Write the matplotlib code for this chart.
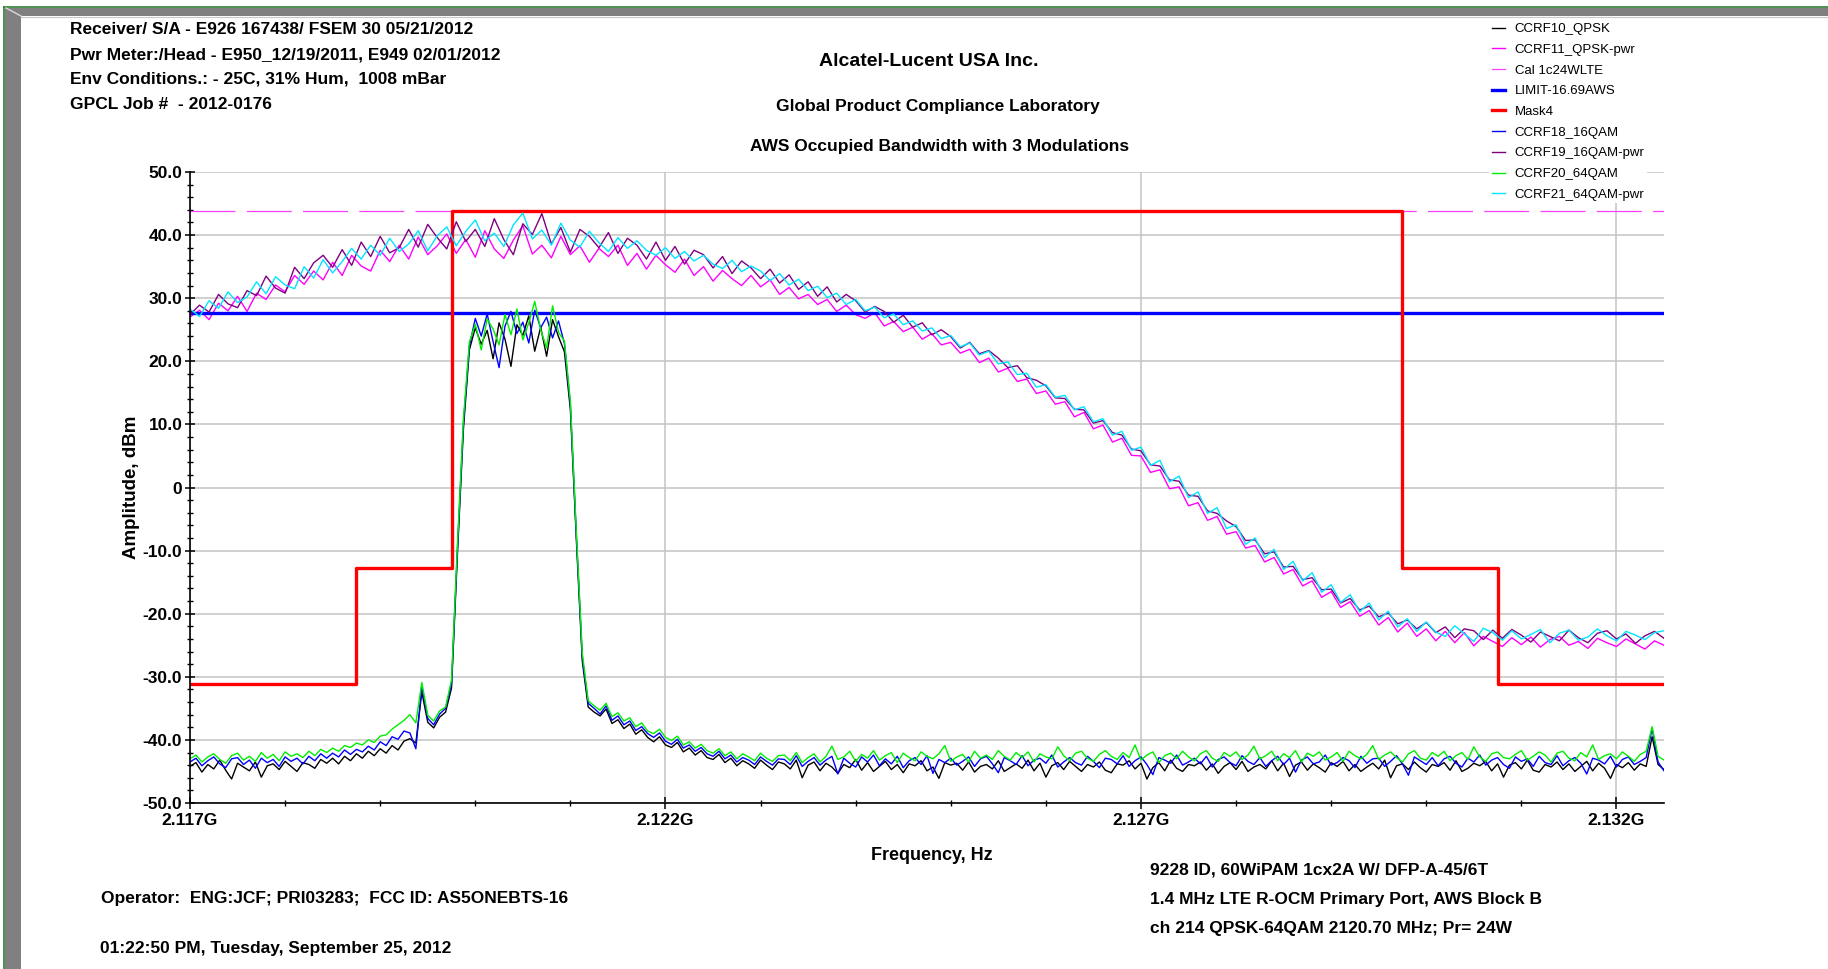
import numpy as np
import matplotlib
matplotlib.use('Agg')
import matplotlib.pyplot as plt
from matplotlib import ticker
from matplotlib.patches import Rectangle
from matplotlib.lines import Line2D

plt.rcParams['font.family'] = ['Liberation Sans', 'DejaVu Sans']
plt.rcParams['font.weight'] = 'bold'

# Sweep settings (GHz)
SWEEP_START = 2.117
SWEEP_STOP = 2.1325

# Narrowband captures, 249 bins across the sweep (dBm)
ccrf10_qpsk = [
    -44.2, -43.6, -45.1, -43.9, -44.6, -43.2, -44.8, -46.2, -43.7, -44.3,
    -44.9, -43.5, -45.9, -44.1, -43.8, -44.7, -43.4, -44.2, -45.0, -43.6,
    -43.9, -44.5, -43.1, -43.7, -42.9, -43.8, -42.6, -43.3, -42.2, -42.9,
    -41.8, -42.5, -41.4, -42.1, -40.9, -41.6, -40.2, -39.8, -40.5, -32.4,
    -37.2, -38.1, -36.4, -35.6, -31.8, -10.5, 9.2,
    21.8, 25.3, 22.7, 24.9, 20.4, 26.1, 23.5, 19.2, 25.8, 24.1, 27.2, 21.6, 25.4, 20.8, 26.6, 23.9, 21.5,
    12.3, -8.2, -27.5, -34.8,
    -35.6, -36.2, -35.1, -37.4, -36.8, -38.2, -37.5, -39.1, -38.4, -39.6, -40.3, -39.5,
    -40.8, -41.2, -40.4, -41.9, -41.3, -42.4, -41.7, -42.8, -43.1, -42.3,
    -43.6, -42.9, -44.1, -43.3, -43.8, -44.5, -43.2, -44.0, -44.7, -43.5,
    -43.8, -44.6, -43.2, -46.0, -44.0, -43.5, -44.9, -43.7, -44.3, -45.3,
    -43.9, -44.4, -43.1, -44.8, -43.6, -45.0, -44.2, -43.4, -44.7, -43.9,
    -45.2, -43.8, -44.1, -43.3, -44.9, -44.3, -46.1, -43.6, -44.0, -43.7,
    -44.8, -43.5, -45.1, -44.2, -43.9, -44.6, -43.3, -45.0, -44.4, -43.8,
    -44.5, -43.2, -44.9, -43.7, -45.9, -44.1, -43.6, -44.7, -43.4, -44.2,
    -45.0, -43.9, -44.3, -43.5, -44.8, -45.2, -43.8, -44.0, -43.3, -44.6,
    -43.7, -46.2, -44.4, -43.6, -44.9, -43.2, -44.5, -45.0, -43.9, -44.1,
    -43.5, -44.8, -43.8, -45.3, -44.2, -43.6, -44.7, -43.4, -45.0, -44.3,
    -43.9, -44.6, -43.3, -44.9, -43.7, -45.8, -44.0, -43.5, -44.8, -43.8,
    -44.4, -45.1, -43.6, -44.2, -43.4, -44.9, -43.9, -45.0, -44.3, -43.7,
    -44.6, -43.2, -46.0, -44.1, -43.8, -44.7, -43.5, -44.4, -45.1, -43.9,
    -44.2, -43.6, -44.8, -43.3, -45.0, -44.5, -43.7, -44.1, -43.4, -44.9,
    -43.8, -45.9, -44.0, -43.6, -44.6, -43.2, -44.8, -45.1, -43.9, -44.3,
    -43.5, -44.7, -43.8, -45.0, -44.2, -43.4, -44.9, -43.7, -44.5, -46.1,
    -43.9, -44.4, -43.6, -44.8, -43.8, -44.2,
    -39.5, -43.9, -44.7,
]

ccrf18_16qam = [
    -43.5, -42.9, -44.1, -43.3, -42.7, -43.8, -44.4, -43.0, -42.8, -43.9,
    -43.2, -44.5, -42.9, -43.6, -43.1, -44.2, -42.7, -43.4, -42.9, -43.8,
    -42.6, -43.3, -42.2, -42.9, -42.1, -42.7, -41.6, -42.3, -41.5, -41.9,
    -41.0, -41.6, -40.3, -40.9, -39.5, -39.9, -38.6, -38.9, -41.4, -31.5,
    -36.6, -37.6, -35.9, -35.0, -31.2, -9.6, 10.1,
    22.4, 26.8, 24.0, 27.5, 23.1, 19.0, 25.6, 27.9, 24.4, 26.2, 22.9, 28.1, 25.3, 27.0, 23.7, 26.4, 22.8,
    13.1, -7.5, -26.8, -34.2,
    -35.0, -35.9, -34.6, -36.9, -36.2, -37.6, -37.0, -38.5, -37.9, -39.0, -39.6, -38.9,
    -40.2, -40.7, -39.9, -41.3, -40.8, -41.8, -41.2, -42.2, -42.6, -41.8,
    -43.0, -42.4, -43.5, -42.8, -43.2, -43.9, -42.7, -43.4, -44.0, -43.0,
    -43.1, -43.9, -42.5, -44.2, -43.4, -42.8, -44.0, -43.2, -42.6, -45.4,
    -42.9, -43.7, -44.3, -42.7, -43.5, -42.4, -44.1, -43.0, -43.8, -42.6,
    -44.4, -43.3, -42.8, -43.9, -42.5, -45.3, -43.1, -43.6, -42.9, -44.0,
    -43.4, -42.7, -44.2, -43.0, -42.6, -43.8, -45.2, -42.8, -43.3, -43.9,
    -42.5, -44.1, -43.2, -42.9, -43.7, -42.4, -44.3, -43.5, -42.8, -43.6,
    -44.0, -42.6, -43.4, -44.4, -42.9, -43.1, -43.8, -42.5, -44.2, -43.3,
    -42.7, -43.9, -45.5, -42.8, -43.2, -43.7, -42.4, -44.0, -43.5, -42.9,
    -43.8, -42.6, -44.3, -43.1, -42.7, -43.6, -44.1, -42.5, -43.4, -43.9,
    -42.8, -44.2, -43.3, -42.6, -43.9, -42.9, -45.1, -43.2, -42.7, -43.8,
    -43.5, -42.4, -44.0, -43.6, -42.8, -43.3, -44.4, -42.6, -43.7, -43.0,
    -42.9, -44.2, -43.4, -42.5, -43.8, -45.6, -42.7, -43.3, -43.9, -42.8,
    -44.1, -43.0, -42.6, -43.7, -44.3, -42.9, -43.5, -42.4, -44.0, -43.2,
    -42.8, -43.9, -44.5, -42.7, -43.4, -43.0, -44.2, -42.6, -43.6, -43.9,
    -42.5, -44.1, -43.3, -42.8, -43.7, -45.4, -42.9, -43.2, -43.8, -42.6,
    -44.3, -43.1, -42.7, -43.9, -43.4, -42.8,
    -38.2, -43.5, -44.9,
]

ccrf20_64qam = [
    -43.0, -42.4, -43.5, -42.7, -42.2, -43.1, -43.7, -42.5, -42.1, -43.2,
    -42.6, -43.4, -42.0, -42.9, -42.3, -43.3, -41.9, -42.6, -42.2, -42.8,
    -41.8, -42.5, -41.5, -42.0, -41.3, -41.8, -40.9, -41.2, -40.5, -40.8,
    -40.0, -40.4, -39.4, -39.2, -38.3, -37.6, -36.9, -36.0, -37.3, -30.9,
    -36.1, -37.0, -35.4, -34.8, -30.5, -9.0, 10.8,
    23.0, 25.9, 21.8, 26.7, 25.1, 22.6, 27.4, 24.2, 28.3, 23.4, 26.1, 29.5, 25.0, 22.1, 28.8, 24.6, 23.2,
    13.6, -7.0, -26.2, -33.8,
    -34.6, -35.3, -34.2, -36.3, -35.7, -37.0, -36.5, -37.9, -37.3, -38.6, -39.0, -38.3,
    -39.6, -40.1, -39.4, -40.8, -40.3, -41.3, -40.7, -41.7, -42.1, -41.4,
    -42.5, -41.9, -43.0, -42.2, -42.7, -43.3, -42.1, -42.9, -43.4, -42.5,
    -42.4, -43.3, -42.0, -43.6, -42.8, -42.2, -43.5, -42.6, -41.0, -43.1,
    -42.7, -41.8, -43.4, -42.3, -42.9, -41.7, -43.2, -42.5, -42.0, -43.6,
    -42.1, -42.8, -43.3, -41.9, -42.6, -43.0, -42.2, -40.9, -43.4, -42.7,
    -42.3, -43.5, -41.8, -42.9, -42.4, -43.1, -41.7, -42.6, -43.2, -42.0,
    -42.8, -41.9, -43.5, -42.2, -42.7, -43.0, -41.1, -42.5, -43.3, -42.1,
    -41.8, -42.9, -43.4, -42.3, -41.7, -42.6, -43.1, -42.0, -42.8, -40.8,
    -43.2, -42.4, -41.9, -43.6, -42.5, -42.1, -43.0, -41.8, -42.7, -43.3,
    -42.2, -41.7, -42.9, -43.4, -42.0, -42.6, -41.9, -43.1, -42.4, -41.0,
    -43.0, -42.5, -41.8, -43.3, -42.2, -42.8, -41.7, -43.5, -42.1, -42.6,
    -41.9, -43.2, -42.7, -42.0, -43.4, -41.8, -42.5, -43.0, -42.3, -40.9,
    -43.1, -42.4, -41.9, -42.8, -43.5, -42.2, -41.7, -42.9, -43.2, -42.0,
    -42.6, -41.8, -43.3, -42.5, -42.0, -43.1, -41.1, -42.7, -43.4, -42.2,
    -41.9, -42.8, -43.0, -42.3, -41.7, -43.2, -42.6, -41.9, -42.4, -43.5,
    -42.1, -41.8, -42.9, -43.3, -42.0, -42.7, -40.8, -43.1, -42.5, -42.2,
    -43.0, -41.9, -42.6, -43.4, -42.3, -41.8,
    -37.9, -42.6, -43.2,
]

# Channel power captures, 156 bins across the sweep (dBm)
ccrf11_qpsk_pwr = [
    27.0, 28.1, 26.6, 29.2, 28.0, 30.3, 27.9, 30.8, 29.8, 32.1,
    31.0, 33.6, 32.2, 34.3, 32.9, 35.7, 33.6, 36.8, 35.1, 34.3,
    37.6, 35.8, 38.4, 36.2, 39.7, 36.9, 38.3, 40.2, 37.1, 39.3,
    36.5, 40.7, 37.8, 36.3, 39.2, 41.5, 37.0, 38.4, 36.4, 39.8,
    36.9, 38.3, 35.7, 37.9, 36.6, 38.4, 35.2, 37.1, 34.6, 36.8,
    35.3, 34.1, 36.2, 33.6, 35.0, 32.7, 34.4, 33.1, 32.0, 33.6,
    31.8, 32.9, 30.6, 31.7, 29.9, 30.6, 29.0, 29.8, 27.9, 28.9,
    27.4, 26.8, 27.7, 25.6, 26.3, 24.7, 25.4, 23.5, 24.4, 22.6,
    23.0, 21.3, 21.9, 19.8, 20.5, 18.3, 18.9, 16.8, 17.2, 14.9,
    15.3, 13.2, 13.6, 11.2, 11.9, 9.3, 9.9, 7.2, 7.8, 5.1,
    5.0, 2.4, 2.8, -0.2, 0.1, -2.9, -2.4, -5.2, -4.6, -7.4,
    -7.0, -9.6, -9.2, -11.8, -11.1, -13.7, -13.0, -15.6, -14.8, -17.4,
    -16.5, -19.0, -18.1, -20.4, -19.5, -21.8, -20.6, -22.9, -21.5, -23.6,
    -22.4, -24.3, -22.8, -24.6, -23.0, -25.1, -23.6, -24.4, -25.2, -23.8,
    -24.9, -23.7, -25.3, -24.1, -23.6, -25.0, -24.4, -25.5, -23.9, -24.6,
    -25.2, -24.0, -24.8, -25.6, -24.3, -25.0,
]

ccrf19_16qam_pwr = [
    27.4, 28.9, 27.8, 30.6, 29.1, 28.5, 31.2, 30.4, 33.5, 31.6,
    30.8, 34.9, 33.1, 35.6, 36.8, 34.9, 37.7, 35.2, 38.9, 36.6,
    39.8, 37.2, 38.0, 40.9, 38.1, 41.7, 39.6, 37.8, 42.1, 39.0,
    40.9, 38.2, 42.6, 39.3, 36.9, 41.8, 40.1, 43.4, 38.6, 41.2,
    37.3, 40.9, 39.8, 38.0, 40.4, 37.1, 39.5, 38.4, 36.2, 38.9,
    36.0, 38.2, 35.4, 37.6, 36.9, 34.8, 36.6, 33.9, 35.9, 34.8,
    33.1, 34.6, 32.4, 33.7, 31.4, 32.6, 30.3, 31.8, 29.4, 30.6,
    29.6, 27.8, 28.7, 27.9, 26.2, 27.3, 25.4, 26.1, 24.2, 25.0,
    23.9, 22.1, 23.0, 21.2, 21.7, 20.5, 19.0, 19.3, 17.4, 17.0,
    16.1, 14.2, 14.1, 12.4, 12.3, 10.2, 10.6, 8.7, 8.3, 6.1,
    5.8, 3.6, 3.4, 1.2, 1.0, -1.2, -1.4, -3.7, -4.1, -5.3,
    -6.2, -8.4, -8.3, -10.5, -10.2, -12.6, -12.5, -14.6, -14.3, -16.2,
    -16.1, -18.3, -17.6, -19.4, -18.8, -20.5, -19.9, -21.6, -21.0, -22.4,
    -21.4, -23.0, -22.1, -23.8, -22.4, -22.7, -24.1, -22.6, -23.9, -22.5,
    -23.4, -24.5, -22.9, -23.6, -24.3, -22.6, -23.8, -24.6, -23.1, -22.7,
    -24.0, -23.2, -24.7, -23.5, -22.8, -23.9,
]

ccrf21_64qam_pwr = [
    28.3, 27.1, 29.6, 28.4, 31.0, 29.3, 30.2, 32.6, 30.7, 33.4,
    32.1, 31.5, 35.0, 33.2, 36.1, 34.0, 35.8, 37.9, 36.2, 38.4,
    36.8, 39.5, 37.4, 38.6, 40.7, 37.5, 39.9, 41.3, 38.3, 40.6,
    42.4, 39.1, 40.3, 38.2, 41.6, 43.5, 39.4, 40.8, 38.4, 41.9,
    39.2, 38.1, 40.6, 38.8, 37.4, 39.6, 37.9, 39.1, 37.6, 36.8,
    38.0, 36.3, 37.4, 35.9, 36.8, 35.4, 34.7, 36.0, 34.2, 35.1,
    34.3, 32.8, 33.9, 32.1, 33.0, 31.2, 31.9, 30.1, 30.8, 29.0,
    29.8, 28.0, 28.6, 26.9, 27.5, 25.8, 26.4, 24.8, 25.3, 23.6,
    24.1, 22.3, 22.9, 21.0, 21.6, 19.6, 19.9, 17.9, 18.1, 15.9,
    16.3, 14.3, 14.6, 12.3, 12.8, 10.4, 10.9, 8.3, 8.9, 5.9,
    6.4, 3.5, 4.3, 0.9, 1.8, -1.6, -0.7, -4.1, -3.2, -6.5,
    -5.9, -9.0, -8.0, -11.1, -9.8, -13.0, -11.7, -14.8, -13.5, -16.6,
    -15.4, -18.2, -17.0, -19.7, -18.3, -21.0, -19.6, -22.1, -20.8, -22.8,
    -21.3, -22.9, -23.6, -21.9, -23.2, -24.4, -22.3, -23.0, -24.2, -22.7,
    -24.0, -23.3, -22.5, -24.6, -23.1, -22.6, -24.2, -23.7, -22.4, -23.5,
    -24.3, -22.8, -23.4, -24.1, -23.0, -22.7,
]

# Reference levels (dBm)
cal_level = 43.8
limit_level = 27.6

# Emission mask corners: frequency (GHz), level (dBm)
mask_freq = [2.117, 2.11875, 2.11875, 2.11975, 2.11975, 2.12975, 2.12975, 2.13075, 2.13075, 2.1325]
mask_level = [-31.2, -31.2, -12.7, -12.7, 43.8, 43.8, -12.7, -12.7, -31.2, -31.2]

x_major_ticks = [2.117, 2.122, 2.127, 2.132]

header_lines = [
    "Receiver/ S/A - E926 167438/ FSEM 30 05/21/2012",
    "Pwr Meter:/Head - E950_12/19/2011, E949 02/01/2012",
    "Env Conditions.: - 25C, 31% Hum,  1008 mBar",
    "GPCL Job #  - 2012-0176",
]
title_lines = [
    "Alcatel-Lucent USA Inc.",
    "Global Product Compliance Laboratory",
    "AWS Occupied Bandwidth with 3 Modulations",
]
footer_left = [
    "Operator:  ENG:JCF; PRI03283;  FCC ID: AS5ONEBTS-16",
    "01:22:50 PM, Tuesday, September 25, 2012",
]
footer_right = [
    "9228 ID, 60WiPAM 1cx2A W/ DFP-A-45/6T",
    "1.4 MHz LTE R-OCM Primary Port, AWS Block B",
    "ch 214 QPSK-64QAM 2120.70 MHz; Pr= 24W",
]

assert len(ccrf10_qpsk) == len(ccrf18_16qam) == len(ccrf20_64qam)
assert len(ccrf11_qpsk_pwr) == len(ccrf19_16qam_pwr) == len(ccrf21_64qam_pwr)

nb_freq = np.linspace(SWEEP_START, SWEEP_STOP, len(ccrf10_qpsk))
pwr_freq = np.linspace(SWEEP_START, SWEEP_STOP, len(ccrf11_qpsk_pwr))

W, H = 1828, 969
fig = plt.figure(figsize=(W / 100, H / 100), dpi=100)


def fx(px):
    return px / W


def fy(py):
    return 1 - py / H


# window frame along the top and left edges
fig.add_artist(Rectangle((fx(5), fy(16)), 1, fy(8) - fy(16), transform=fig.transFigure,
                         facecolor='#808080', edgecolor='none'))
fig.add_artist(Rectangle((fx(5), 0), fx(21) - fx(5), fy(8), transform=fig.transFigure,
                         facecolor='#808080', edgecolor='none'))
fig.add_artist(Line2D([fx(4), 1], [fy(7), fy(7)], transform=fig.transFigure, color='#2e7d32', lw=1.2))
fig.add_artist(Line2D([fx(4), fx(4)], [0, fy(7)], transform=fig.transFigure, color='#2e7d32', lw=1.2))
fig.add_artist(Line2D([fx(21), 1], [fy(16.5), fy(16.5)], transform=fig.transFigure, color='#c8c8c8', lw=0.8))
fig.add_artist(Line2D([fx(6), fx(21)], [fy(8), fy(16)], transform=fig.transFigure, color='#d8d8d8', lw=1.0))

ax = fig.add_axes([fx(190), fy(803), fx(1664) - fx(190), fy(172) - fy(803)])

lines = []
lines += ax.plot(nb_freq, ccrf10_qpsk, color='black', lw=1.0, label='CCRF10_QPSK')
lines += ax.plot(pwr_freq, ccrf11_qpsk_pwr, color='#ff00ff', lw=1.0, label='CCRF11_QPSK-pwr')
lines.append(ax.axhline(cal_level, color='#ff40ff', lw=0.9, dashes=(36, 9), label='Cal 1c24WLTE'))
lines.append(ax.axhline(limit_level, color='#0000ff', lw=2.4, label='LIMIT-16.69AWS'))
lines += ax.plot(mask_freq, mask_level, color='#ff0000', lw=2.4, label='Mask4')
lines += ax.plot(nb_freq, ccrf18_16qam, color='#0000ff', lw=1.0, label='CCRF18_16QAM')
lines += ax.plot(pwr_freq, ccrf19_16qam_pwr, color='#800080', lw=1.0, label='CCRF19_16QAM-pwr')
lines += ax.plot(nb_freq, ccrf20_64qam, color='#00ee00', lw=1.0, label='CCRF20_64QAM')
lines += ax.plot(pwr_freq, ccrf21_64qam_pwr, color='#00e5ff', lw=1.0, label='CCRF21_64QAM-pwr')

ax.set_xlim(SWEEP_START, SWEEP_STOP)
ax.set_ylim(-50, 50)
ax.xaxis.set_major_locator(ticker.FixedLocator(x_major_ticks))
ax.xaxis.set_minor_locator(ticker.MultipleLocator(0.001))
ax.yaxis.set_major_locator(ticker.MultipleLocator(10))
ax.yaxis.set_minor_locator(ticker.MultipleLocator(2))
ax.xaxis.set_major_formatter(ticker.FuncFormatter(lambda v, pos: f'{v:.3f}G'))
ax.yaxis.set_major_formatter(ticker.FuncFormatter(lambda v, pos: '0' if abs(v) < 1e-9 else f'{v:.1f}'))

ax.grid(True, which='major', color='#c4c4c4', lw=1.1)
ax.set_axisbelow(True)
for side in ('top', 'right'):
    ax.spines[side].set_visible(False)
for side in ('left', 'bottom'):
    ax.spines[side].set_linewidth(1.2)

ax.tick_params(axis='both', which='major', direction='inout', width=1.1, labelsize=12.5)
ax.tick_params(axis='both', which='minor', direction='inout', width=1.0)
ax.tick_params(axis='y', which='major', length=7, pad=2)
ax.tick_params(axis='y', which='minor', length=4)
ax.tick_params(axis='x', which='major', length=9, pad=3)
ax.tick_params(axis='x', which='minor', length=5)

ax.set_ylabel('Amplitude, dBm', fontsize=13.5, fontweight='bold', va='center')
ax.yaxis.set_label_coords((132 - 190) / 1474, 0.5)
fig.text(fx(932), fy(856), 'Frequency, Hz', ha='center', va='center', fontsize=13)

for k, s in enumerate(header_lines):
    fig.text(fx(70), fy(30 + 24.7 * k), s, ha='left', va='center', fontsize=12.5)

fig.text(fx(929), fy(61), title_lines[0], ha='center', va='center', fontsize=14)
fig.text(fx(938), fy(106.5), title_lines[1], ha='center', va='center', fontsize=12.5)
fig.text(fx(940), fy(146), title_lines[2], ha='center', va='center', fontsize=12.5)

fig.text(fx(101), fy(899), footer_left[0], ha='left', va='center', fontsize=12.5)
fig.text(fx(100), fy(948), footer_left[1], ha='left', va='center', fontsize=12.5)
for k, s in enumerate(footer_right):
    fig.text(fx(1150), fy(870 + 29.5 * k), s, ha='left', va='center', fontsize=12.5)

leg = fig.legend(handles=lines, loc='upper left', bbox_to_anchor=(fx(1489), fy(20.5)),
                 prop={'size': 9.5, 'weight': 'normal'}, frameon=True, fancybox=False,
                 facecolor='white', edgecolor='none', framealpha=1.0,
                 handlelength=1.0, handletextpad=0.75, labelspacing=0.64,
                 borderpad=0.2, borderaxespad=0)
# short solid swatches in the legend, even for the dashed trace
for h in leg.legend_handles:
    h.set_linestyle('-')

fig.savefig('out.png', dpi=100)
